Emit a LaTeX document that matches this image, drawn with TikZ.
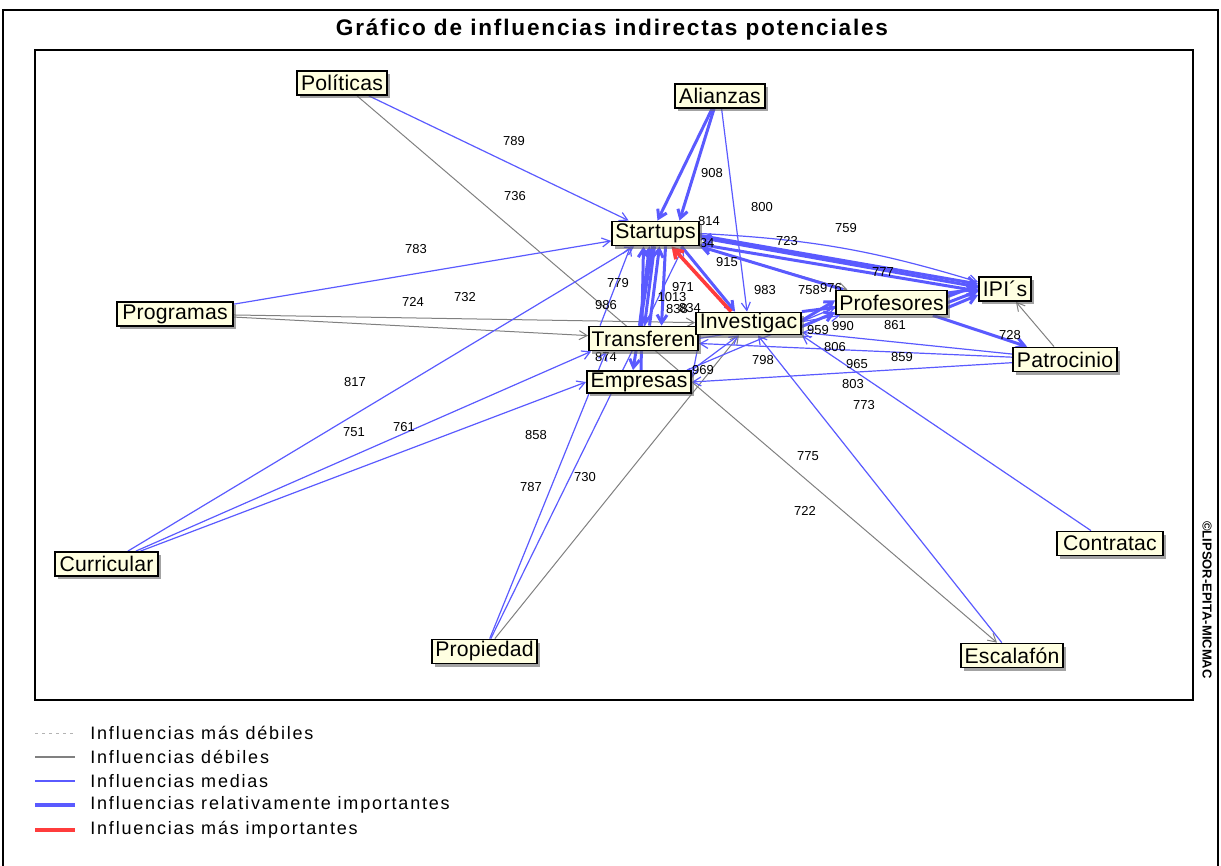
\documentclass[tikz,border=0pt]{standalone}
\usepackage{fontspec}
\setmainfont{Liberation Sans}
\newfontfamily\nodefont[LetterSpace=1]{Liberation Sans}
\newfontfamily\legfont[LetterSpace=10]{Liberation Sans}
\newfontfamily\titlefont[LetterSpace=8]{Liberation Sans}
\usetikzlibrary{arrows.meta,calc,shadows}
\pgfdeclarelayer{bg}
\pgfsetlayers{bg,main}
\definecolor{med}{RGB}{90,90,255}
\definecolor{weak}{RGB}{128,128,128}
\definecolor{strong}{RGB}{255,60,60}
\definecolor{nodefill}{RGB}{255,255,225}
\tikzset{
  var/.style={draw=black, line width=0.9pt, fill=nodefill, inner sep=0pt,
    minimum height=12pt, font=\nodefont\fontsize{10.6}{12}\selectfont,
    drop shadow={shadow xshift=1.6pt, shadow yshift=-1.6pt, fill=black!60, opacity=0.6}},
  num/.style={inner sep=0pt, font=\fontsize{6.5}{7}\selectfont},
  weakedge/.style={draw=weak, line width=0.5pt, -{Straight Barb[length=4pt,width=4.5pt]}},
  mededge/.style={draw=med, line width=0.6pt, -{Straight Barb[length=4pt,width=4.5pt]}},
  relimp/.style={draw=med, line width=1.5pt, -{Straight Barb[length=4pt,width=5pt]}},
  maximp/.style={draw=strong, line width=1.8pt, -{Straight Barb[length=4.5pt,width=5.5pt]}},
  legtext/.style={anchor=west, inner sep=0pt, font=\legfont\fontsize{9}{11}\selectfont}
}
\begin{document}
\begin{tikzpicture}[x=0.5pt,y=-0.5pt]
\useasboundingbox (0,0) rectangle (1221,866);
% frames
\draw[line width=0.8pt] (3,870) -- (3,10) -- (1218,10) -- (1218,870);
\draw[line width=0.9pt] (35,50) rectangle (1193,700);
\node[font=\titlefont\bfseries\fontsize{11.3}{13}\selectfont, inner sep=0pt] (title) at (612,30) {Gráfico de influencias indirectas potenciales};
\node[rotate=-90, inner sep=0pt, font=\bfseries\fontsize{6.5}{7}\selectfont] (copy) at (1207,600) {©LIPSOR-EPITA-MICMAC};

% nodes
\node[var, minimum width=45pt] (Politicas) at (342,83) {Políticas};
\node[var, minimum width=45pt] (Alianzas) at (720,96) {Alianzas};
\node[var, minimum width=43.5pt] (Startups) at (655.5,233.5) {Startups};
\node[var, minimum width=58pt] (Programas) at (175,314) {Programas};
\node[var, minimum width=54.5pt] (Transferen) at (643.5,338.5) {Transferen};
\node[var, minimum width=52.5pt, minimum height=11pt] (Investigac) at (748.5,323.5) {Investigac};
\node[var, minimum width=52pt, minimum height=11pt] (Empresas) at (639,382) {Empresas};
\node[var, minimum width=55.5pt] (Profesores) at (891.5,302.5) {Profesores};
\node[var, minimum width=26pt] (IPIs) at (1005,289) {IPI´s};
\node[var, minimum width=52pt] (Patrocinio) at (1065,359.5) {Patrocinio};
\node[var, minimum width=51.5pt] (Curricular) at (106.5,564) {Curricular};
\node[var, minimum width=52.5pt] (Propiedad) at (484.5,651.5) {Propiedad};
\node[var, minimum width=53pt] (Contratac) at (1110,543.5) {Contratac};
\node[var, minimum width=51pt] (Escalafon) at (1012,655.5) {Escalafón};

\begin{pgfonlayer}{bg}
% weak influences
\draw[weakedge] (Politicas) -- (Escalafon);
\draw[weakedge] (Programas) -- (Investigac);
\draw[weakedge] (Programas) -- (Transferen);
\draw[weakedge] (Propiedad) -- (Investigac);
\draw[weakedge] (Patrocinio) -- (IPIs);
\draw[weakedge] (Startups) -- (Profesores);
% medium influences
\draw[mededge] (Politicas) -- (Startups);
\draw[mededge] (Programas) -- (Startups);
\draw[mededge] (Curricular) -- (Startups);
\draw[mededge] (Curricular) -- ($(Transferen.south west)+(3,0)$);
\draw[mededge] (Curricular) -- (Empresas.west);
\draw[mededge] (Propiedad) -- ($(Transferen.south west)+(18,0)$);
\draw[mededge] (Propiedad) -- ($(Startups.south)+(28,0)$);
\draw[mededge] (Alianzas) -- (Investigac);
\draw[mededge] (Startups.east) to[bend left=7] ($(IPIs.west)+(0,-7)$);
\draw[mededge] (Patrocinio) -- ($(Transferen.east)+(0,5)$);
\draw[mededge] (Patrocinio) -- (Empresas.east);
\draw[mededge] (Patrocinio) -- ($(Investigac.south east)+(0,-3)$);
\draw[mededge] (Contratac) -- (Investigac.south east);
\draw[mededge] (Escalafon) -- (Investigac);
\draw[mededge] ($(Empresas.north east)+(-5,0)$) -- ($(Profesores.west)+(0,5)$);
\draw[mededge] (Transferen.east) -- ($(Profesores.south west)+(5,0)$);
\draw[mededge] (Empresas.north east) -- ($(Investigac.south)+(-10,0)$);
\draw[mededge] ($(Investigac.south west)+(5,0)$) -- ($(Empresas.east)+(0,-4)$);
\draw[mededge] ($(Transferen.north west)+(12,0)$) -- ($(Startups.south)+(-25,0)$);
% relatively important influences
\draw[relimp] ($(Alianzas.south)+(-8,0)$) -- ($(Startups.north)+(2,0)$);
\draw[relimp] ($(Alianzas.south)+(-6,0)$) -- ($(Startups.north)+(24,0)$);
\draw[relimp] ($(Transferen.north)+(-4,0)$) -- ($(Startups.south)+(-6,0)$);
\draw[relimp] ($(Transferen.north)+(6,0)$) -- ($(Startups.south)+(4,0)$);
\draw[relimp] ($(Startups.south)+(-1,0)$) -- ($(Transferen.north)+(1,0)$);
\draw[relimp] ($(Startups.south)+(10,0)$) -- ($(Transferen.north)+(18,0)$);
\draw[relimp] ($(Empresas.north)+(2,0)$) -- ($(Startups.south)+(-12,0)$);
\draw[relimp] ($(Startups.south)+(-3,0)$) -- ($(Empresas.north)+(-6,0)$);
\draw[relimp] ($(Startups.south)+(26,0)$) -- ($(Investigac.north west)+(40,0)$);
\draw[relimp] ($(IPIs.west)+(0,-2)$) -- ($(Startups.east)+(0,4)$);
\draw[relimp] ($(IPIs.west)+(0,2)$) -- ($(Startups.south east)+(0,-2)$);
\draw[relimp] ($(Profesores.north west)+(8,0)$) -- (Startups.south east);
\draw[relimp] ($(Startups.east)+(0,2)$) -- ($(IPIs.west)+(0,-5)$);
\draw[relimp] ($(Profesores.east)+(0,-6)$) -- ($(IPIs.west)+(0,-4)$);
\draw[relimp] (Profesores.east) -- ($(IPIs.west)+(0,2)$);
\draw[relimp] ($(Profesores.east)+(0,5)$) -- ($(IPIs.west)+(0,6)$);
\draw[relimp] ($(Investigac.east)+(0,-3)$) -- ($(Profesores.west)+(0,-2)$);
\draw[relimp] ($(Investigac.east)+(0,3)$) -- ($(Profesores.south west)+(0,-3)$);
\draw[relimp] (Investigac.north east) -- (IPIs.west);
\draw[relimp] ($(Profesores.south east)+(-15,0)$) -- ($(Patrocinio.north west)+(15,0)$);
% most important influence
\draw[maximp] ($(Investigac.north west)+(36,0)$) -- ($(Startups.south)+(16,0)$);

% edge values
\node[num] (l1) at (514,141) {789};
\node[num] (l2) at (515,196) {736};
\node[num] (l3) at (712,173) {908};
\node[num] (l4) at (762,207) {800};
\node[num] (l5) at (709,221) {814};
\node[num] (l6) at (846,228) {759};
\node[num] (l7) at (416,249) {783};
\node[num] (l8) at (787,241) {723};
\node[num] (l9) at (707,243) {34};
\node[num] (l10) at (727,262) {915};
\node[num] (l11) at (883,272) {777};
\node[num] (l12) at (618,283) {779};
\node[num] (l13) at (683,287) {971};
\node[num] (l14) at (765,290) {983};
\node[num] (l15) at (809,290) {758};
\node[num] (l16) at (831,288) {976};
\node[num] (l17) at (413,302) {724};
\node[num] (l18) at (465,297) {732};
\node[num] (l19) at (606,305) {986};
\node[num] (l20) at (672,297) {1013};
\node[num] (l21) at (677,309) {838};
\node[num] (l22) at (690,308) {834};
\node[num] (l23) at (818,330) {959};
\node[num] (l24) at (843,326) {990};
\node[num] (l25) at (895,325) {861};
\node[num] (l26) at (1010,335) {728};
\node[num] (l27) at (606,357) {874};
\node[num] (l28) at (763,360) {798};
\node[num] (l29) at (835,347) {806};
\node[num] (l30) at (857,364) {965};
\node[num] (l31) at (902,357) {859};
\node[num] (l32) at (703,370) {969};
\node[num] (l33) at (853,384) {803};
\node[num] (l34) at (864,405) {773};
\node[num] (l35) at (355,382) {817};
\node[num] (l36) at (354,432) {751};
\node[num] (l37) at (404,427) {761};
\node[num] (l38) at (536,435) {858};
\node[num] (l39) at (531,487) {787};
\node[num] (l40) at (585,477) {730};
\node[num] (l41) at (808,456) {775};
\node[num] (l42) at (805,511) {722};
\end{pgfonlayer}

% legend
\draw[draw=weak!60, line width=0.5pt, dash pattern=on 1.5pt off 2pt] (35,733) -- (75,733);
\draw[draw=weak, line width=0.6pt] (35,757) -- (75,757);
\draw[draw=med, line width=0.7pt] (35,781) -- (75,781);
\draw[draw=med, line width=1.6pt] (35,805) -- (75,805);
\draw[draw=strong, line width=1.6pt] (35,830) -- (75,830);
\node[legtext] (g1) at (90,733) {Influencias más débiles};
\node[legtext] (g2) at (90,757) {Influencias débiles};
\node[legtext] (g3) at (90,781) {Influencias medias};
\node[legtext] (g4) at (90,805) {Influencias relativamente importantes};
\node[legtext] (g5) at (90,830) {Influencias más importantes};
\end{tikzpicture}
\end{document}
